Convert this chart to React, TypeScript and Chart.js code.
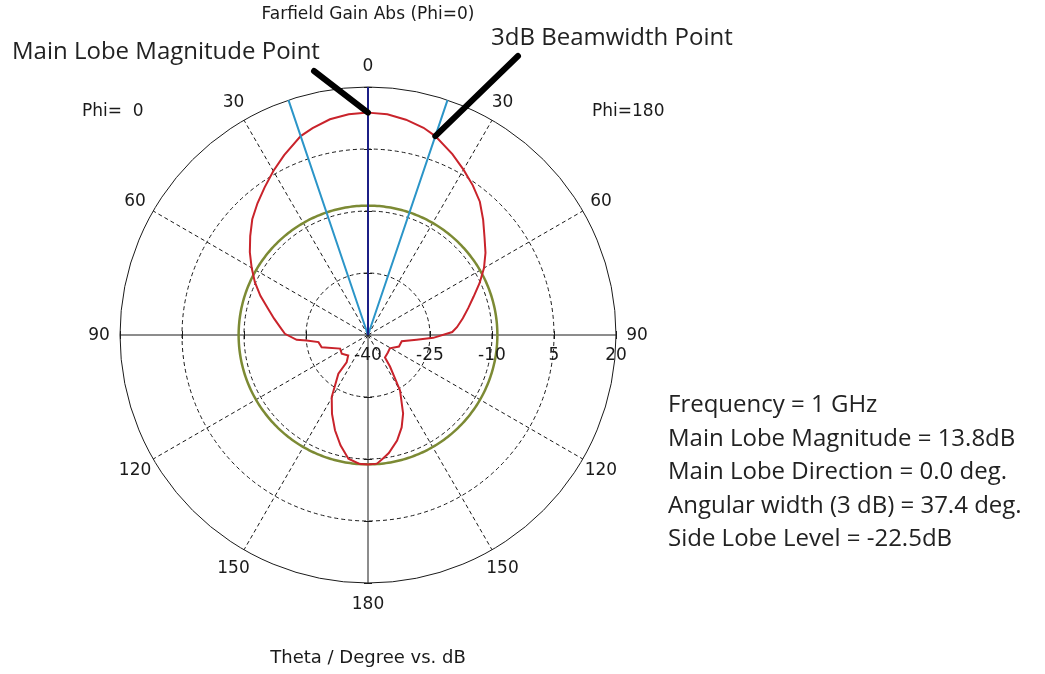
import React, { useEffect, useRef } from 'react';
import { Chart, registerables } from 'chart.js';

Chart.register(...registerables);

// Angular resolution of the polar grid: one category every 0.1 degree,
// running clockwise from the top (Phi=180 half first, then the Phi=0 half).
const STEPS_PER_DEG = 10;
const TOTAL_STEPS = 360 * STEPS_PER_DEG;

// Radial axis in dB
const radialMin = -40;
const radialMax = 20;
const radialStep = 15;
const radialTicks = [-40, -25, -10, 5, 20];

// Theta labels every 30 degrees (clockwise position on the plot -> printed theta)
const thetaLabelAngles = [0, 30, 60, 90, 120, 150, 180, 210, 240, 270, 300, 330];
const thetaLabels = ['0', '30', '60', '90', '120', '150', '180', '150', '120', '90', '60', '30'];

// Farfield gain pattern: clockwise angle from the top (deg) and gain (dB)
const gainAngles = [
  0, 5, 10, 15, 18.7, 25, 30, 35, 40, 45, 50, 55, 60, 65, 70, 75, 80, 85, 88,
  92.5, 95.6, 100.4, 110.4, 121.5, 131.2, 142.9, 145.1, 150, 155.9, 160, 164.6,
  170, 173.1, 176, 180,
  184, 189, 194, 199.1, 204.5, 210.3, 217.4, 218, 224, 234.4, 244, 255.2, 261.8,
  264.9, 266.1, 270.8, 275, 280, 285, 290, 295, 300, 305, 310, 315, 320, 325,
  330, 335, 341.3, 345, 350, 355,
];
const gainValues = [
  13.8, 13.6, 12.9, 11.9, 10.8, 8.3, 6.2, 4.2, 2.1, -0.6, -3.2, -5.3, -7.6, -10.2, -12.8, -14.9, -16.7, -18.4, -19.6,
  -24.2, -28.2, -31.7, -32.0, -33.8, -33.6, -33.2, -30.7, -24.5, -19.2, -16.2, -13.5,
  -11.0, -9.9, -8.8, -8.7,
  -8.8, -9.7, -12.5, -15.6, -19.0, -22.6, -28.2, -31.6, -33.1, -32.2, -32.5, -28.4, -27.9,
  -25.1, -22.7, -19.9, -18.7, -16.9, -14.9, -12.3, -9.8, -7.5, -5.1, -2.8, -0.4, 1.6, 3.6,
  5.8, 8.0, 10.8, 11.8, 13.0, 13.6,
];

// Farfield summary
const frequencyGHz = 1;
const mainLobeMagnitude = 13.8; // dB
const mainLobeDirection = 0.0; // deg
const angularWidth3dB = 37.4; // deg
const sideLobeLevel = -22.5; // dB relative to the main lobe

const sideLobeLevelDb = mainLobeMagnitude + sideLobeLevel;
const beamHalfWidth = angularWidth3dB / 2;

const toIndex = (deg: number) =>
  ((Math.round(deg * STEPS_PER_DEG) % TOTAL_STEPS) + TOTAL_STEPS) % TOTAL_STEPS;

const sparseSeries = (angles: number[], values: number[]) => {
  const arr: (number | null)[] = new Array(TOTAL_STEPS).fill(null);
  angles.forEach((a, i) => {
    arr[toIndex(a)] = values[i];
  });
  return arr;
};

// A ray from the centre out to the edge of the plot at the given angle
const raySeries = (deg: number) => {
  const arr: (number | null)[] = new Array(TOTAL_STEPS).fill(null);
  arr[toIndex(deg)] = radialMax;
  arr[toIndex(deg + 0.1)] = radialMin;
  return arr;
};

// Side lobe level reference circle, one point per degree
const sideLobeSeries = () => {
  const arr: (number | null)[] = new Array(TOTAL_STEPS).fill(null);
  for (let d = 0; d < 360; d++) arr[d * STEPS_PER_DEG] = sideLobeLevelDb;
  return arr;
};

const categoryLabels = Array.from({ length: TOTAL_STEPS }, (_, i) => String(i / STEPS_PER_DEG));

const GRID = '#1a1a1a';
const LABEL_FONT = '"DejaVu Sans", sans-serif';
const NOTE_FONT = '"Open Sans", sans-serif';

const decorations = {
  id: 'farfieldDecorations',
  beforeDatasetsDraw(chart: any) {
    const scale = chart.scales.r;
    const ctx = chart.ctx;
    const cx = scale.xCenter;
    const cy = scale.yCenter;
    ctx.save();
    ctx.strokeStyle = GRID;
    ctx.lineWidth = 1;
    ctx.beginPath();
    radialTicks.slice(1).forEach((v) => {
      const d = scale.getDistanceFromCenterForValue(v);
      // small marks where the rings cross the main axes
      ctx.moveTo(cx + d + 0.5, cy - 4);
      ctx.lineTo(cx + d + 0.5, cy + 4);
      ctx.moveTo(cx - d + 0.5, cy - 4);
      ctx.lineTo(cx - d + 0.5, cy + 4);
      ctx.moveTo(cx - 4, cy + d + 0.5);
      ctx.lineTo(cx + 4, cy + d + 0.5);
      ctx.moveTo(cx - 4, cy - d + 0.5);
      ctx.lineTo(cx + 4, cy - d + 0.5);
    });
    ctx.stroke();
    ctx.restore();
  },
  afterDraw(chart: any) {
    const scale = chart.scales.r;
    const ctx = chart.ctx;
    const cx = scale.xCenter;
    const cy = scale.yCenter;
    const R = scale.drawingArea;
    ctx.save();
    ctx.fillStyle = '#1a1a1a';

    // theta labels round the rim
    ctx.font = `17px ${LABEL_FONT}`;
    ctx.textAlign = 'center';
    ctx.textBaseline = 'middle';
    thetaLabelAngles.forEach((a, i) => {
      const p = scale.getPointPosition(toIndex(a), R + 21);
      ctx.fillText(thetaLabels[i], p.x, p.y + 1);
    });

    // dB tick labels along the right-hand axis
    radialTicks.forEach((v) => {
      const d = scale.getDistanceFromCenterForValue(v);
      ctx.fillText(String(v), cx + d, cy + 21);
    });

    // titles
    ctx.fillText('Farfield Gain Abs (Phi=0)', cx, 15);
    ctx.textAlign = 'left';
    ctx.fillText('Phi=  0', 82, 112);
    ctx.fillText('Phi=180', 592, 112);
    ctx.textAlign = 'center';
    ctx.font = `18px ${LABEL_FONT}`;
    ctx.fillText('Theta / Degree vs. dB', cx, 658);

    // pointers to the main lobe and the 3 dB beamwidth crossing
    const mainPt = scale.getPointPositionForValue(toIndex(mainLobeDirection), mainLobeMagnitude);
    const beamPt = scale.getPointPositionForValue(
      toIndex(mainLobeDirection + beamHalfWidth),
      mainLobeMagnitude - 3
    );
    ctx.strokeStyle = '#000';
    ctx.lineWidth = 6;
    ctx.lineCap = 'round';
    ctx.beginPath();
    ctx.moveTo(314, 71);
    ctx.lineTo(mainPt.x, mainPt.y);
    ctx.moveTo(518, 56);
    ctx.lineTo(beamPt.x, beamPt.y);
    ctx.stroke();

    ctx.fillStyle = '#222';
    ctx.textAlign = 'left';
    ctx.textBaseline = 'alphabetic';
    ctx.font = `24px ${NOTE_FONT}`;
    ctx.fillText('Main Lobe Magnitude Point', 12, 59);
    ctx.fillText('3dB Beamwidth Point', 491, 45);

    const info = [
      `Frequency = ${frequencyGHz} GHz`,
      `Main Lobe Magnitude = ${mainLobeMagnitude.toFixed(1)}dB`,
      `Main Lobe Direction = ${mainLobeDirection.toFixed(1)} deg.`,
      `Angular width (3 dB) = ${angularWidth3dB.toFixed(1)} deg.`,
      `Side Lobe Level = ${sideLobeLevel.toFixed(1)}dB`,
    ];
    info.forEach((t, i) => ctx.fillText(t, 668, 412 + i * 33.5));
    ctx.restore();
  },
};

export default function App() {
  const canvasRef = useRef<HTMLCanvasElement | null>(null);

  useEffect(() => {
    if (!canvasRef.current) return;
    const lineBase = {
      pointRadius: 0,
      pointHoverRadius: 0,
      fill: false,
      spanGaps: true,
      tension: 0,
    };
    const chart = new Chart(canvasRef.current, {
      type: 'radar',
      data: {
        labels: categoryLabels,
        datasets: [
          {
            ...lineBase,
            label: 'Main lobe direction',
            data: raySeries(mainLobeDirection),
            borderColor: '#1c1f86',
            borderWidth: 2,
          },
          {
            ...lineBase,
            label: '3 dB (Phi=180)',
            data: raySeries(mainLobeDirection + beamHalfWidth),
            borderColor: '#2b95c8',
            borderWidth: 2,
          },
          {
            ...lineBase,
            label: '3 dB (Phi=0)',
            data: raySeries(360 - beamHalfWidth),
            borderColor: '#2b95c8',
            borderWidth: 2,
          },
          {
            ...lineBase,
            label: 'Farfield gain',
            data: sparseSeries(gainAngles, gainValues),
            borderColor: '#c9232b',
            borderWidth: 2,
          },
          {
            ...lineBase,
            label: 'Side lobe level',
            data: sideLobeSeries(),
            borderColor: '#7c8a34',
            borderWidth: 2.5,
          },
        ],
      },
      options: {
        responsive: false,
        animation: false,
        events: [],
        layout: { padding: { left: 120, top: 87, right: 429, bottom: 91 } },
        plugins: {
          legend: { display: false },
          tooltip: { enabled: false },
          title: { display: false },
        },
        scales: {
          r: {
            min: radialMin,
            max: radialMax,
            startAngle: 0,
            ticks: { display: false, stepSize: radialStep },
            pointLabels: { display: false },
            grid: {
              circular: true,
              color: GRID,
              lineWidth: 1,
            },
            border: {
              dash: (c: any) => (c.tick && c.tick.value === radialMax ? [] : [4, 3]),
            },
            angleLines: {
              color: GRID,
              lineWidth: (c: any) => (c.index % (30 * STEPS_PER_DEG) === 0 ? 1 : 0),
              borderDash: (c: any) => (c.index % (90 * STEPS_PER_DEG) === 0 ? [] : [4, 3]),
            },
          },
        },
      },
      plugins: [decorations],
    } as any);
    return () => chart.destroy();
  }, []);

  return (
    <div
      style={{
        position: 'fixed',
        left: 0,
        top: 0,
        width: 1045,
        height: 674,
        background: '#fff',
      }}
    >
      <canvas ref={canvasRef} width={1045} height={674} />
    </div>
  );
}
